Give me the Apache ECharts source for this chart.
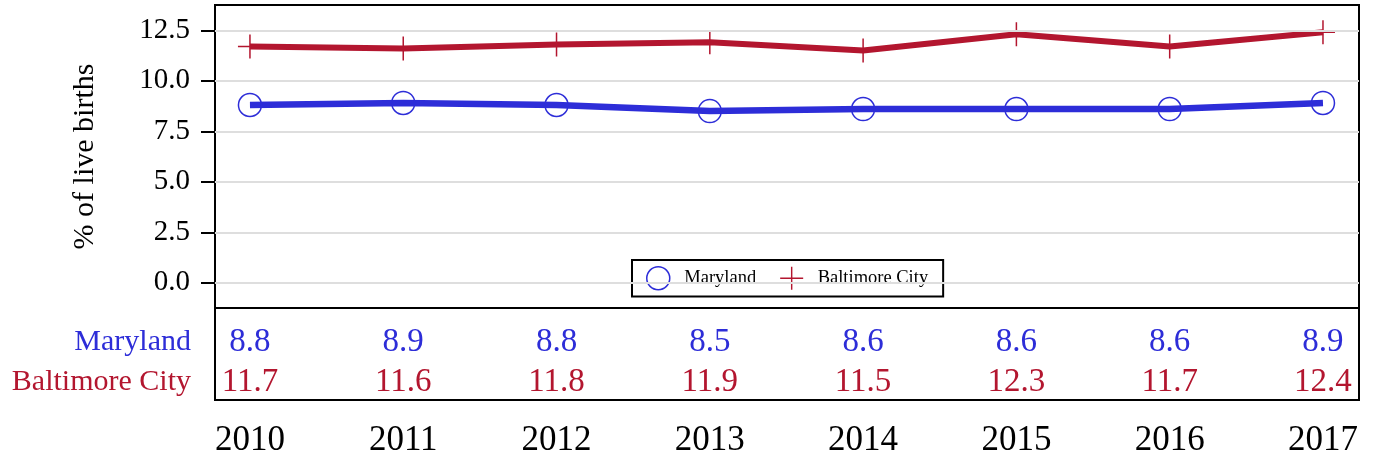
<!DOCTYPE html>
<html>
<head>
<meta charset="utf-8">
<script src="https://cdn.jsdelivr.net/npm/echarts@6/dist/echarts.min.js"></script>
<style>
	html, body { margin: 0; padding: 0; background: #fff; }
	#chart { width: 1375px; height: 459px; }
</style>
</head>
<body>
<div id="chart"></div>
<script>
// data
const years = [2010, 2011, 2012, 2013, 2014, 2015, 2016, 2017]
const maryland = [8.8, 8.9, 8.8, 8.5, 8.6, 8.6, 8.6, 8.9]
const baltimore = [11.7, 11.6, 11.8, 11.9, 11.5, 12.3, 11.7, 12.4]
const yTicks = [0, 2.5, 5, 7.5, 10, 12.5]
const rowNames = ["Baltimore City", "Maryland"]

const blue = "#2d2dd8"
const red = "#b3162f"
const font = "Liberation Serif"
const plus = "path://M0,11.25H24V12.75H0Z M11.25,0H12.75V24H11.25Z"

const xRange = { min: 2009.772, max: 2017.235 }

let option = {
	animation: false,
	textStyle: { fontFamily: font },
	grid: [
		{ left: 215, right: 16, top: 5, height: 303, show: true, borderColor: "#000", borderWidth: 2 },
		{ left: 215, right: 16, top: 308, height: 92, show: true, borderColor: "#000", borderWidth: 2 }
	],
	legend: {
		left: 632,
		top: 260,
		orient: "horizontal",
		padding: [6, 15, 6, 14],
		itemWidth: 42,
		itemHeight: 23,
		itemGap: 24,
		borderColor: "#000",
		borderWidth: 2,
		textStyle: { fontFamily: font, fontSize: 18.5, color: "#000" },
		data: [
			{ name: "Maryland", icon: "circle", itemStyle: { color: "transparent", borderColor: blue, borderWidth: 1.5 } },
			{ name: "Baltimore City", icon: plus, itemStyle: { color: red, borderWidth: 0 } }
		]
	},
	xAxis: [
		{
			type: "value", gridIndex: 0, ...xRange,
			axisLine: { show: false }, axisTick: { show: false }, axisLabel: { show: false }, splitLine: { show: false }
		},
		{
			type: "value", gridIndex: 1, ...xRange,
			axisLine: { show: false }, axisTick: { show: false }, splitLine: { show: false },
			axisLabel: {
				customValues: years,
				formatter: v => String(v),
				fontFamily: font, fontSize: 35, color: "#000", margin: 23
			}
		}
	],
	yAxis: [
		{
			type: "value", gridIndex: 0, min: -1.25, max: 13.75,
			name: "% of live births",
			nameLocation: "middle",
			nameGap: 115,
			nameTextStyle: { fontFamily: font, fontSize: 30, color: "#000" },
			axisLine: { show: false },
			splitLine: { show: false },
			axisTick: { show: true, customValues: yTicks, length: 14, lineStyle: { color: "#000", width: 2 } },
			axisLabel: {
				customValues: yTicks,
				formatter: v => v.toFixed(1),
				fontFamily: font, fontSize: 29, color: "#000", margin: 25
			}
		},
		{
			type: "value", gridIndex: 1, min: -0.44, max: 1.86,
			axisLine: { show: false }, axisTick: { show: false }, splitLine: { show: false },
			axisLabel: {
				customValues: [0, 1],
				formatter: v => (v === 1 ? "{m|" : "{b|") + rowNames[v] + "}",
				margin: 24,
				rich: {
					m: { fontFamily: font, fontSize: 30, color: blue },
					b: { fontFamily: font, fontSize: 30, color: red }
				}
			}
		}
	],
	series: [
		{
			// light grid lines
			type: "line", xAxisIndex: 0, yAxisIndex: 0, data: [], z: 1,
			markLine: {
				silent: true, symbol: "none", label: { show: false },
				lineStyle: { color: "#dedede", width: 2, type: "solid" },
				data: yTicks.map(v => ({ yAxis: v }))
			}
		},
		{
			name: "Maryland", type: "line", xAxisIndex: 0, yAxisIndex: 0, z: 3,
			data: years.map((y, i) => [y, maryland[i]]),
			symbol: "circle", symbolSize: 23,
			itemStyle: { color: "transparent", borderColor: blue, borderWidth: 1.5 },
			lineStyle: { color: blue, width: 6.5 }
		},
		{
			name: "Baltimore City", type: "line", xAxisIndex: 0, yAxisIndex: 0, z: 3,
			data: years.map((y, i) => [y, baltimore[i]]),
			symbol: plus, symbolSize: 24,
			itemStyle: { color: red },
			lineStyle: { color: red, width: 6 }
		},
		{
			name: "tableMaryland", type: "scatter", xAxisIndex: 1, yAxisIndex: 1,
			data: years.map(y => [y, 1]),
			symbolSize: 1, itemStyle: { color: "transparent", opacity: 1 },
			label: {
				show: true, position: "inside",
				formatter: p => maryland[p.dataIndex].toFixed(1),
				fontFamily: font, fontSize: 33, color: blue
			}
		},
		{
			name: "tableBaltimore", type: "scatter", xAxisIndex: 1, yAxisIndex: 1,
			data: years.map(y => [y, 0]),
			symbolSize: 1, itemStyle: { color: "transparent", opacity: 1 },
			label: {
				show: true, position: "inside",
				formatter: p => baltimore[p.dataIndex].toFixed(1),
				fontFamily: font, fontSize: 33, color: red
			}
		}
	]
}

const chart = echarts.init(document.getElementById("chart"))
chart.setOption(option)
</script>
</body>
</html>
